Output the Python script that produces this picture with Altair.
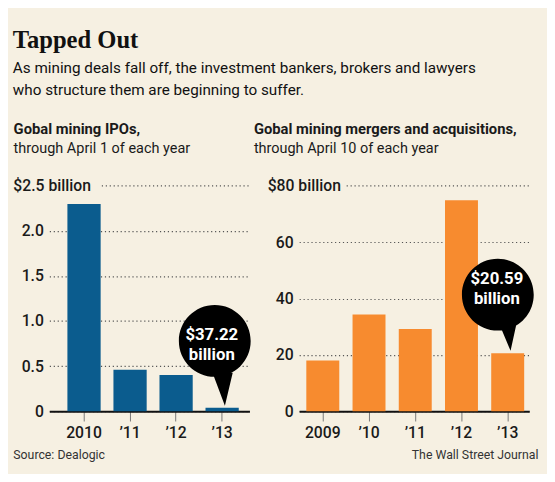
import altair as alt
import pandas as pd

# ---------------- data ----------------
ipo_years = ["2010", "’11", "’12", "’13"]
ipo_values = [2.30, 0.46, 0.40, 0.03722]
ipo_ticks = [0, 0.5, 1.0, 1.5, 2.0]
ipo_top = 2.5
ipo_top_label = "$2.5 billion"
ipo_callout = ["$37.22", "billion"]

ma_years = ["2009", "’10", "’11", "’12", "’13"]
ma_values = [18.0, 34.3, 29.2, 74.9, 20.59]
ma_ticks = [0, 20, 40, 60]
ma_top = 80
ma_top_label = "$80 billion"
ma_callout = ["$20.59", "billion"]

title_text = "Tapped Out"
subtitle_lines = [
    "As mining deals fall off, the investment bankers, brokers and lawyers",
    "who structure them are beginning to suffer.",
]
ipo_title = "Gobal mining IPOs,"
ipo_sub = "through April 1 of each year"
ma_title = "Gobal mining mergers and acquisitions,"
ma_sub = "through April 10 of each year"
source_text = "Source: Dealogic"
credit_text = "The Wall Street Journal"

# ---------------- style ----------------
BG = "#f6f0e2"
INK = "#1a1a1a"
GRID = "#555555"
BLUE = "#0b5c8e"
ORANGE = "#f78b2f"
SANS = "Roboto, sans-serif"
SERIF = "Liberation Serif, DejaVu Serif, serif"

H = 229


def bubble_shape(cx, cy, bl, br, tip):
    return (
        f"M{cx + 1},{cy} A1,1 0 1,1 {cx - 1},{cy} A1,1 0 1,1 {cx + 1},{cy} Z "
        f"M{bl[0]},{bl[1]} L{br[0]},{br[1]} L{tip[0]},{tip[1]} Z"
    )


def panel(years, values, ticks, top, top_label, callout, color, w, band,
          label_x, rule_x, shape, tdx, tdy, title, sub, title_dx,
          foot_text, foot_x, foot_align, label_expr):
    df = pd.DataFrame({"year": years, "value": values})
    xscale = alt.Scale(domain=years, paddingInner=band[0], paddingOuter=band[1], align=band[2])
    yscale = alt.Scale(domain=[0, top], nice=False, zero=True)
    x = alt.X("year:N", scale=xscale, axis=alt.Axis(
        title=None, labelAngle=0, domainColor="#111111", domainWidth=2,
        tickColor="#777777", tickSize=10, tickWidth=1, labelPadding=4,
        labelFont=SANS, labelFontSize=16, labelFontWeight=500, labelColor=INK))
    yaxis = dict(
        title=None, values=ticks, domain=False, ticks=False, tickSize=0,
        grid=True, gridDash=[1.2, 2.8], gridColor=GRID, gridWidth=1.2,
        labelPadding=6, labelFont=SANS, labelFontSize=16, labelFontWeight=500,
        labelColor=INK)
    if label_expr:
        yaxis["labelExpr"] = label_expr
    y = alt.Y("value:Q", scale=yscale, axis=alt.Axis(**yaxis))

    bars = alt.Chart(df).mark_bar(color=color).encode(x=x, y=y)

    topdf = pd.DataFrame({"value": [top], "label": [top_label]})
    toprule = alt.Chart(topdf).mark_rule(
        strokeDash=[1.2, 2.8], color=GRID, strokeWidth=1.2
    ).encode(y=y, x=alt.value(rule_x), x2=alt.value(w))
    toptext = alt.Chart(topdf).mark_text(
        align="left", baseline="middle", font=SANS, fontSize=16, fontWeight=500, color=INK
    ).encode(y=y, x=alt.value(label_x), text="label:N")

    cdf = pd.DataFrame({"year": [years[-1]], "value": [values[-1]]})
    bubble = alt.Chart(cdf).mark_point(
        shape=shape, size=5329, filled=True, color="#000000", opacity=1, strokeWidth=0
    ).encode(x=x, y=y)
    btext = alt.Chart(cdf).mark_text(
        align="center", baseline="alphabetic", dx=tdx, dy=tdy, lineHeight=20,
        font=SANS, fontSize=17, fontWeight="bold", color="white"
    ).encode(x=x, y=y, text=alt.value(callout))

    foot = alt.Chart(cdf).mark_text(
        align=foot_align, baseline="alphabetic", font=SANS, fontSize=12.5, color="#333333"
    ).encode(x=alt.value(foot_x), y=alt.value(H + 48.5), text=alt.value(foot_text))

    return alt.layer(bars, toprule, toptext, bubble, btext, foot).properties(
        width=w, height=H,
        title=alt.Title(
            text=title, subtitle=sub, anchor="start", frame="group", dx=title_dx,
            font=SANS, fontSize=15, fontWeight="bold", color=INK,
            subtitleFont=SANS, subtitleFontSize=14.7, subtitleColor=INK,
            subtitlePadding=4, offset=23,
        ),
    )


left_shape = bubble_shape(-0.205, -1.863, (-0.25, -0.93), (0.295, -0.975), (0.077, -0.055))
right_shape = bubble_shape(-0.275, -1.63, (-0.24, -0.83), (0.266, -0.92), (0.08, -0.066))

left = panel(ipo_years, ipo_values, ipo_ticks, ipo_top, ipo_top_label, ipo_callout, BLUE,
             203.5, (0.278, 0.313, 0.628), -36.6, 53.4, left_shape, -10.5, -69,
             ipo_title, ipo_sub, -36.3, source_text, -36.6, "left",
             "datum.value == 0 ? '0' : format(datum.value, '.1f')")
right = panel(ma_years, ma_values, ma_ticks, ma_top, ma_top_label, ma_callout, ORANGE,
              234, (0.287, 0.133, 0.584), -32, 48.3, right_shape, -11, -70,
              ma_title, ma_sub, -46, credit_text, 243.3, "right", None)

chart = alt.hconcat(left, right, spacing=1).properties(
    title=alt.Title(
        text=title_text, subtitle=subtitle_lines, anchor="start", frame="bounds",
        font=SERIF, fontSize=25, fontWeight="bold", color="#111111",
        subtitleFont=SANS, subtitleFontSize=15.5, subtitleColor="#111111",
        subtitleLineHeight=22, subtitlePadding=9, offset=24,
    ),
    padding={"left": 4, "top": 16, "right": 8, "bottom": 8},
    background=BG,
).configure_view(stroke="transparent")

chart.save("out.html", embed_options={"renderer": "svg", "actions": False})
